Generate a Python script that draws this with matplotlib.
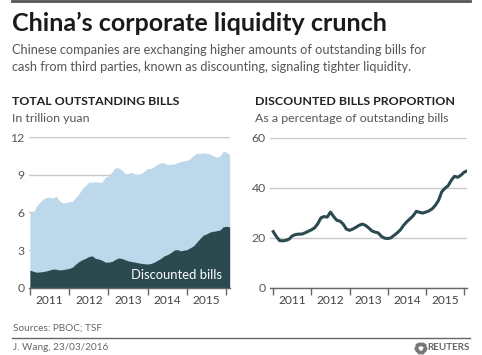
import numpy as np
import pandas as pd
import matplotlib.pyplot as plt

plt.rcParams['font.family'] = ['Lato', 'DejaVu Sans']

# monthly data, Jan 2011 - Feb 2016
months = pd.date_range('2011-01-01', periods=62, freq='MS')

total_bills = [6.05, 5.95, 6.5, 6.8, 7.05, 7.2, 7.2, 7.15, 7.3, 6.95, 6.75, 6.8,
               6.85, 6.9, 7.2, 7.5, 7.9, 8.15, 8.4, 8.4, 8.45, 8.4, 8.4, 8.8,
               8.9, 9.2, 9.55, 9.55, 9.4, 9.1, 9.1, 9.2, 9.05, 9.05, 9.1, 9.3,
               9.5, 9.5, 9.65, 9.85, 9.95, 9.95, 9.8, 9.85, 9.85, 9.95, 10.05, 10.1,
               10.15, 10.3, 10.55, 10.7, 10.7, 10.75, 10.7, 10.65, 10.5, 10.4, 10.5, 10.85,
               10.8, 10.6]

discounted_bills = [1.42, 1.32, 1.25, 1.27, 1.3, 1.35, 1.42, 1.5, 1.48, 1.43, 1.45, 1.5,
                    1.55, 1.65, 1.9, 2.1, 2.25, 2.35, 2.5, 2.55, 2.35, 2.3, 2.2, 2.05,
                    2.05, 2.1, 2.25, 2.38, 2.35, 2.25, 2.15, 2.1, 2.05, 2.0, 1.95, 1.92,
                    1.9, 1.95, 2.05, 2.2, 2.35, 2.55, 2.65, 2.8, 3.0, 3.05, 2.95, 3.0,
                    3.05, 3.2, 3.35, 3.65, 3.95, 4.2, 4.3, 4.45, 4.5, 4.55, 4.6, 4.85,
                    4.9, 4.85]

proportion = [22.5, 20.5, 18.9, 18.8, 19.0, 19.5, 20.8, 21.3, 21.5, 21.5, 22.0, 22.6,
              23.2, 24.0, 25.6, 28.0, 28.5, 28.3, 30.3, 28.5, 27.0, 26.7, 25.5, 23.5,
              23.0, 23.5, 24.2, 25.0, 25.5, 25.0, 24.0, 22.8, 22.3, 22.0, 20.6, 19.9,
              19.7, 20.0, 21.0, 22.0, 23.2, 25.0, 26.4, 27.6, 28.8, 30.6, 30.2, 29.9,
              30.3, 30.8, 31.6, 33.0, 35.0, 38.4, 39.8, 40.8, 43.0, 44.6, 44.2, 45.0,
              46.2, 46.8]

years = [2011, 2012, 2013, 2014, 2015]

x = months.year + (months.month - 1) / 12

light_blue = '#bdd7eb'
dark_teal = '#2b4a50'
grid_col = '#c9c9c9'
tick_col = '#555555'


def style_axis(ax, yticks, ylim, xlim):
    ax.set_ylim(*ylim)
    ax.set_xlim(*xlim)
    ax.set_yticks(yticks)
    ax.yaxis.grid(True, color=grid_col, linewidth=1)
    ax.set_axisbelow(True)
    for s in ['top', 'right', 'left']:
        ax.spines[s].set_visible(False)
    ax.spines['bottom'].set_color('#666666')
    ax.spines['bottom'].set_linewidth(1)
    ax.tick_params(axis='y', length=0, pad=3, labelsize=8.8, labelcolor=tick_col)
    ax.set_xticks(years + [2016])
    ax.set_xticklabels([])
    ax.set_xticks([y + 0.5 for y in years], minor=True)
    ax.set_xticklabels([str(y) for y in years], minor=True)
    ax.tick_params(axis='x', which='major', length=5, width=1, color='#666666',
                   direction='out')
    ax.tick_params(axis='x', which='minor', length=0, pad=5, labelsize=8.6,
                   labelcolor='#444444')


fig = plt.figure(figsize=(4.82, 3.55), dpi=100)

# left chart
ax1 = fig.add_axes([0.060, 0.189, 0.417, 0.425])
ax1.fill_between(x, 0, total_bills, color=light_blue, linewidth=0)
ax1.fill_between(x, 0, discounted_bills, color=dark_teal, linewidth=0)
style_axis(ax1, [0, 3, 6, 9, 12], (0, 12), (2010.975, 2016.09))
ax1.text(2015.88, 1.0, 'Discounted bills', color='white', fontsize=9.4,
         ha='right', va='center')

# right chart
ax2 = fig.add_axes([0.560, 0.189, 0.409, 0.423])
ax2.plot(x, proportion, color=dark_teal, linewidth=2.2)
style_axis(ax2, [0, 20, 40, 60], (0, 60), (2010.913, 2016.08))

# titles
fig.add_artist(plt.Line2D([0.025, 0.975], [0.997, 0.997], color='#555555', linewidth=2))
fig.text(0.025, 0.935, 'China\u2019s corporate liquidity crunch', fontsize=18,
         fontweight='bold', color='#1a1a1a', va='center')
fig.text(0.025, 0.858, 'Chinese companies are exchanging higher amounts of outstanding bills for',
         fontsize=9.15, color='#555555', va='center')
fig.text(0.025, 0.812, 'cash from third parties, known as discounting, signaling tighter liquidity.',
         fontsize=9.15, color='#555555', va='center')

fig.text(0.025, 0.714, 'TOTAL OUTSTANDING BILLS', fontsize=8.9, fontweight='bold',
         color='#222222', va='center')
fig.text(0.025, 0.667, 'In trillion yuan', fontsize=8.9, color='#555555', va='center')
fig.text(0.529, 0.714, 'DISCOUNTED BILLS PROPORTION', fontsize=8.9, fontweight='bold',
         color='#222222', va='center')
fig.text(0.529, 0.667, 'As a percentage of outstanding bills', fontsize=8.9,
         color='#555555', va='center')

# footer
fig.text(0.027, 0.076, 'Sources: PBOC; TSF', fontsize=7.2, color='#666666', va='center')
fig.add_artist(plt.Line2D([0.025, 0.975], [0.048, 0.048], color='#666666', linewidth=1))
fig.text(0.027, 0.020, 'J. Wang, 23/03/2016', fontsize=7.2, color='#666666', va='center')
fig.text(0.975, 0.020, 'REUTERS', fontsize=7, fontweight='bold', color='#666666',
         ha='right', va='center')
ang = np.linspace(0, 2 * np.pi, 10, endpoint=False)
fig.add_artist(plt.Line2D(0.872 + 0.009 * np.cos(ang), 0.020 + 0.012 * np.sin(ang),
                          linestyle='none', marker='o', markersize=2, color='#777777'))

fig.savefig('out.png', dpi=100)
